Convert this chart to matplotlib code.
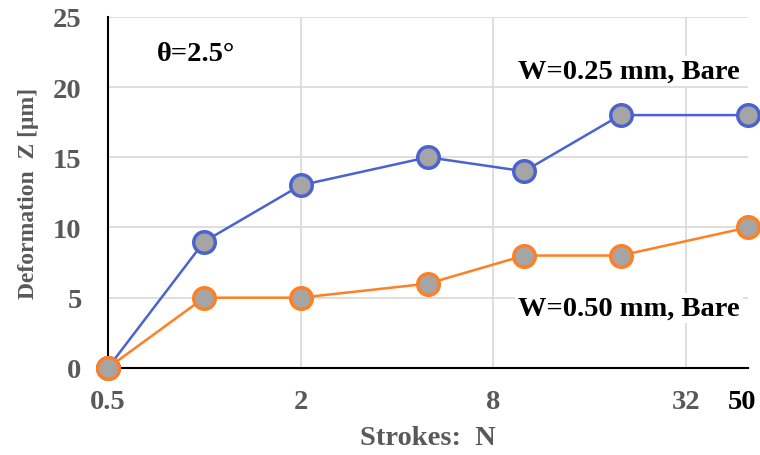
import numpy as np
import matplotlib
matplotlib.use("Agg")
import matplotlib.pyplot as plt

plt.rcParams['font.family'] = ['Liberation Serif', 'DejaVu Serif']

# data
strokes = [0.5, 1, 2, 5, 10, 20, 50]
w025_bare = [0, 9, 13, 15, 14, 18, 18]
w050_bare = [0, 5, 5, 6, 8, 8, 10]
x_ticks = [0.5, 2, 8, 32]
x_ticklabels = ['0.5', '2', '8', '32']
x_end = 50
y_ticks = [0, 5, 10, 15, 20, 25]

blue = '#4A63CF'
orange = '#FF7F24'
fill = '#A5A5A5'
gray_txt = '#595959'

fig = plt.figure(figsize=(7.6, 4.56), dpi=100)
ax = fig.add_axes([0.142, 0.191, 0.842, 0.770])

for y, c in [(w025_bare, blue), (w050_bare, orange)]:
    ax.plot(strokes, y, color=c, lw=1.8, marker='o', ms=15.5,
            mfc=fill, mec=c, mew=2.5, zorder=3, clip_on=False)

ax.set_xscale('log', base=2)
ax.set_xlim(0.5, x_end)
ax.set_ylim(0, 25)
ax.set_xticks(x_ticks)
ax.set_xticklabels(x_ticklabels)
ax.set_yticks(y_ticks)
ax.minorticks_off()
ax.tick_params(length=0, labelsize=20.5, labelcolor=gray_txt)
ax.tick_params(axis='x', pad=15)
ax.tick_params(axis='y', pad=19)
for lab in ax.get_xticklabels() + ax.get_yticklabels():
    lab.set_fontweight('bold')

# end label at 50 (black, as in the original)
ax.annotate(str(x_end), xy=(x_end, 0), xycoords=('data', 'axes fraction'),
            xytext=(-4, -15), textcoords='offset points', ha='center', va='top',
            fontsize=20.5, fontweight='bold', color='black', annotation_clip=False)

ax.grid(True, color='#D9D9D9', lw=1.2)
ax.set_axisbelow(True)

for s in ['top', 'right']:
    ax.spines[s].set_visible(False)
for s in ['left', 'bottom']:
    ax.spines[s].set_color('black')
    ax.spines[s].set_linewidth(1.5)

ax.set_xlabel('Strokes:  N', fontsize=20.5, fontweight='bold', color=gray_txt, labelpad=8)
ax.set_ylabel('Deformation  Z [μm]', fontsize=17, fontweight='bold',
              color=gray_txt, labelpad=10)

box = dict(facecolor='white', edgecolor='none', pad=2)
ax.text(0.077, 0.895, 'θ=2.5°', transform=ax.transAxes, fontsize=20.5,
        fontweight='bold', ha='left', va='center')
ax.text(0.9875, 0.846, 'W=0.25 mm, Bare', transform=ax.transAxes, fontsize=20.5,
        fontweight='bold', ha='right', va='center', bbox=box, zorder=2)
ax.text(0.9875, 0.171, 'W=0.50 mm, Bare', transform=ax.transAxes, fontsize=20.5,
        fontweight='bold', ha='right', va='center', bbox=box, zorder=2)

fig.savefig('out.png', dpi=100)
